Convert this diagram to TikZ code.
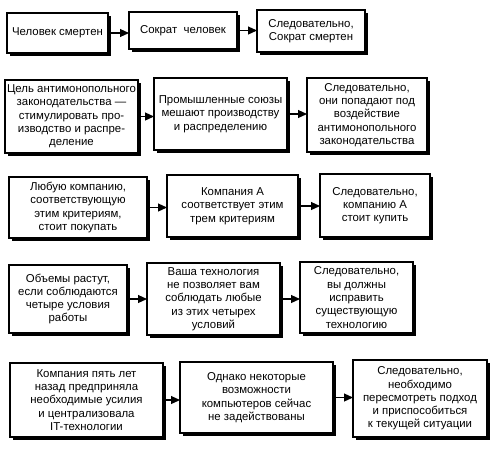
\documentclass[tikz,border=0pt]{standalone}
\usepackage{fontspec}
\setmainfont{Liberation Sans}
\usetikzlibrary{arrows.meta}
\begin{document}
\begin{tikzpicture}[x=1pt,y=-1pt,
  box/.style={draw, line width=1.1pt, fill=white, align=center,
    inner sep=0pt, outer sep=0pt,
    font=\fontsize{11.4}{13.3}\selectfont,
    preaction={fill=black, transform canvas={shift={(2.8pt,-2.8pt)}}}},
  arr/.style={line width=1.1pt, -{Triangle[length=9pt,width=8pt]}}]
\useasboundingbox (0,0) rectangle (502,451);
% Row 1
\node[box, minimum width=101pt, minimum height=40pt] (a1) at (57.5,33) {Человек смертен};
\node[box, minimum width=108pt, minimum height=37pt] (b1) at (183,30.5) {Сократ\ \ человек};
\node[box, minimum width=108pt, minimum height=42pt] (c1) at (311,31) {Следовательно,\\Сократ смертен};
% Row 2
\node[box, minimum width=133pt, minimum height=73pt] (a2) at (71.5,116.5) {Цель антимонопольного\\законодательства —\\стимулировать про-\\изводство и распре-\\деление};
\node[box, minimum width=133pt, minimum height=72pt] (b2) at (220.5,114) {Промышленные союзы\\мешают производству\\и распределению};
\node[box, minimum width=120pt, minimum height=74pt] (c2) at (367,115) {Следовательно,\\они попадают под\\воздействие\\антимонопольного\\законодательства};
% Row 3
\node[box, minimum width=138pt, minimum height=61pt] (a3) at (78,207.5) {Любую компанию,\\соответствующую\\этим критериям,\\стоит покупать};
\node[box, minimum width=131pt, minimum height=62pt] (b3) at (232.5,206) {Компания А\\соответствует этим\\трем критериям};
\node[box, minimum width=110pt, minimum height=63pt] (c3) at (375,205.5) {Следовательно,\\компанию А\\стоит купить};
% Row 4
\node[box, minimum width=118pt, minimum height=68pt] (a4) at (68,299) {Объемы растут,\\если соблюдаются\\четыре условия\\работы};
\node[box, minimum width=133pt, minimum height=72pt] (b4) at (213.5,299) {Ваша технология\\не позволяет вам\\соблюдать любые\\из этих четырех\\условий};
\node[box, minimum width=113pt, minimum height=71pt] (c4) at (356.5,297.5) {Следовательно,\\вы должны\\исправить\\существующую\\технологию};
% Row 5
\node[box, minimum width=153pt, minimum height=74pt] (a5) at (86.5,400) {Компания пять лет\\назад предприняла\\необходимые усилия\\и централизовала\\IT-технологии};
\node[box, minimum width=153pt, minimum height=71pt] (b5) at (256.5,397.5) {Однако некоторые\\возможности\\компьютеров сейчас\\не задействованы};
\node[box, minimum width=134pt, minimum height=77pt] (c5) at (420,398.5) {Следовательно,\\необходимо\\пересмотреть подход\\и приспособиться\\к текущей ситуации};
% Arrows
\draw[arr] (a1.east) -- (a1.east -| b1.west);
\draw[arr] (b1.east) -- (b1.east -| c1.west);
\draw[arr] (a2.east) -- (a2.east -| b2.west);
\draw[arr] (b2.east) -- (b2.east -| c2.west);
\draw[arr] (a3.east) -- (a3.east -| b3.west);
\draw[arr] (b3.east) -- (b3.east -| c3.west);
\draw[arr] (a4.east) -- (a4.east -| b4.west);
\draw[arr] (b4.east) -- (b4.east -| c4.west);
\draw[arr] (a5.east) -- (a5.east -| b5.west);
\draw[arr] (b5.east) -- (b5.east -| c5.west);
\end{tikzpicture}
\end{document}
